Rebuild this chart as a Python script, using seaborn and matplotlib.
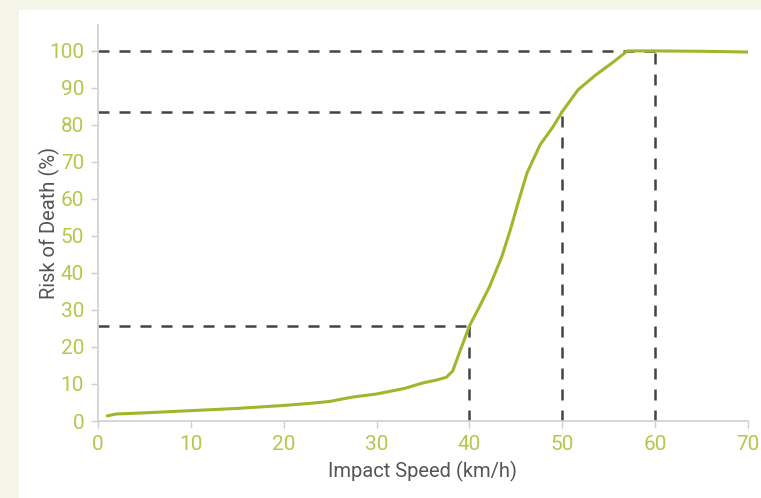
import matplotlib
matplotlib.use("Agg")
import matplotlib.pyplot as plt
import seaborn as sns
import pandas as pd
from matplotlib.patches import Rectangle

speed = [1, 2, 5, 10, 15, 20, 23, 25, 26, 27.5, 30, 33, 35, 36.5, 37.5, 38.2, 39, 40, 41, 42.2, 43.5, 44.4, 45.3, 46.2, 47.6, 49, 50, 51.7, 53.6, 55.5, 57, 60, 65, 70]
risk = [1.4, 1.9, 2.2, 2.8, 3.4, 4.2, 4.8, 5.3, 5.8, 6.5, 7.3, 8.8, 10.3, 11.1, 11.8, 13.5, 19, 25.7, 30.5, 36.5, 44.5, 51.6, 59.5, 67, 74.6, 79.5, 83.6, 89.5, 93.5, 97, 100, 100, 99.9, 99.7]

ref_speed = [40, 50, 60]
ref_risk = [25.7, 83.6, 100]

xticks = [0, 10, 20, 30, 40, 50, 60, 70]
yticks = [0, 10, 20, 30, 40, 50, 60, 70, 80, 90, 100]

sns.set_theme(style="white")
plt.rcParams['font.family'] = ['Roboto', 'DejaVu Sans']

fig = plt.figure(figsize=(7.61, 4.98), dpi=100)
fig.patch.set_facecolor('#f4f5e8')
bg = fig.add_axes([19/761, 0, 1 - 19/761, 1 - 10/498], zorder=-5)
bg.set_facecolor('white')
bg.set_axis_off()
bg.add_patch(Rectangle((0, 0), 1, 1, transform=bg.transAxes, facecolor='white', edgecolor='none'))

ax = fig.add_axes([98/761, 77/498, 650/761, 396/498], zorder=1)
ax.set_facecolor('none')

df = pd.DataFrame({"speed": speed, "risk": risk})
sns.lineplot(data=df, x="speed", y="risk", ax=ax, color='#9cb82b', linewidth=2.2, zorder=3)

dash_color = '#444444'
for sx, ry in zip(ref_speed, ref_risk):
    ax.plot([0, sx], [ry, ry], color=dash_color, lw=1.8, linestyle=(0, (4.4, 4.0)), zorder=2)
    ax.plot([sx, sx], [0, ry], color=dash_color, lw=1.8, linestyle=(0, (4.4, 4.0)), zorder=2)

ax.set_xlim(0, 70)
ax.set_ylim(0, 107)
ax.set_xticks(xticks)
ax.set_yticks(yticks)
ax.tick_params(axis='both', colors='#d0d0d0', labelcolor='#b3c84c', labelsize=15,
               length=5, width=1, direction='out', left=True, bottom=True)
ax.tick_params(axis='x', pad=5)
ax.tick_params(axis='y', pad=5)
for s in ['top', 'right']:
    ax.spines[s].set_visible(False)
for s in ['left', 'bottom']:
    ax.spines[s].set_color('#d0d0d0')
    ax.spines[s].set_linewidth(1.2)

ax.set_xlabel('Impact Speed (km/h)', color='#555555', fontsize=14.5)
ax.set_ylabel('Risk of Death (%)', color='#555555', fontsize=14.5)
ax.xaxis.set_label_coords(0.5, (421 - 461) / 396)
ax.yaxis.set_label_coords((60 - 98) / 650, 0.5)

fig.savefig('out.png', dpi=100, facecolor=fig.get_facecolor())
